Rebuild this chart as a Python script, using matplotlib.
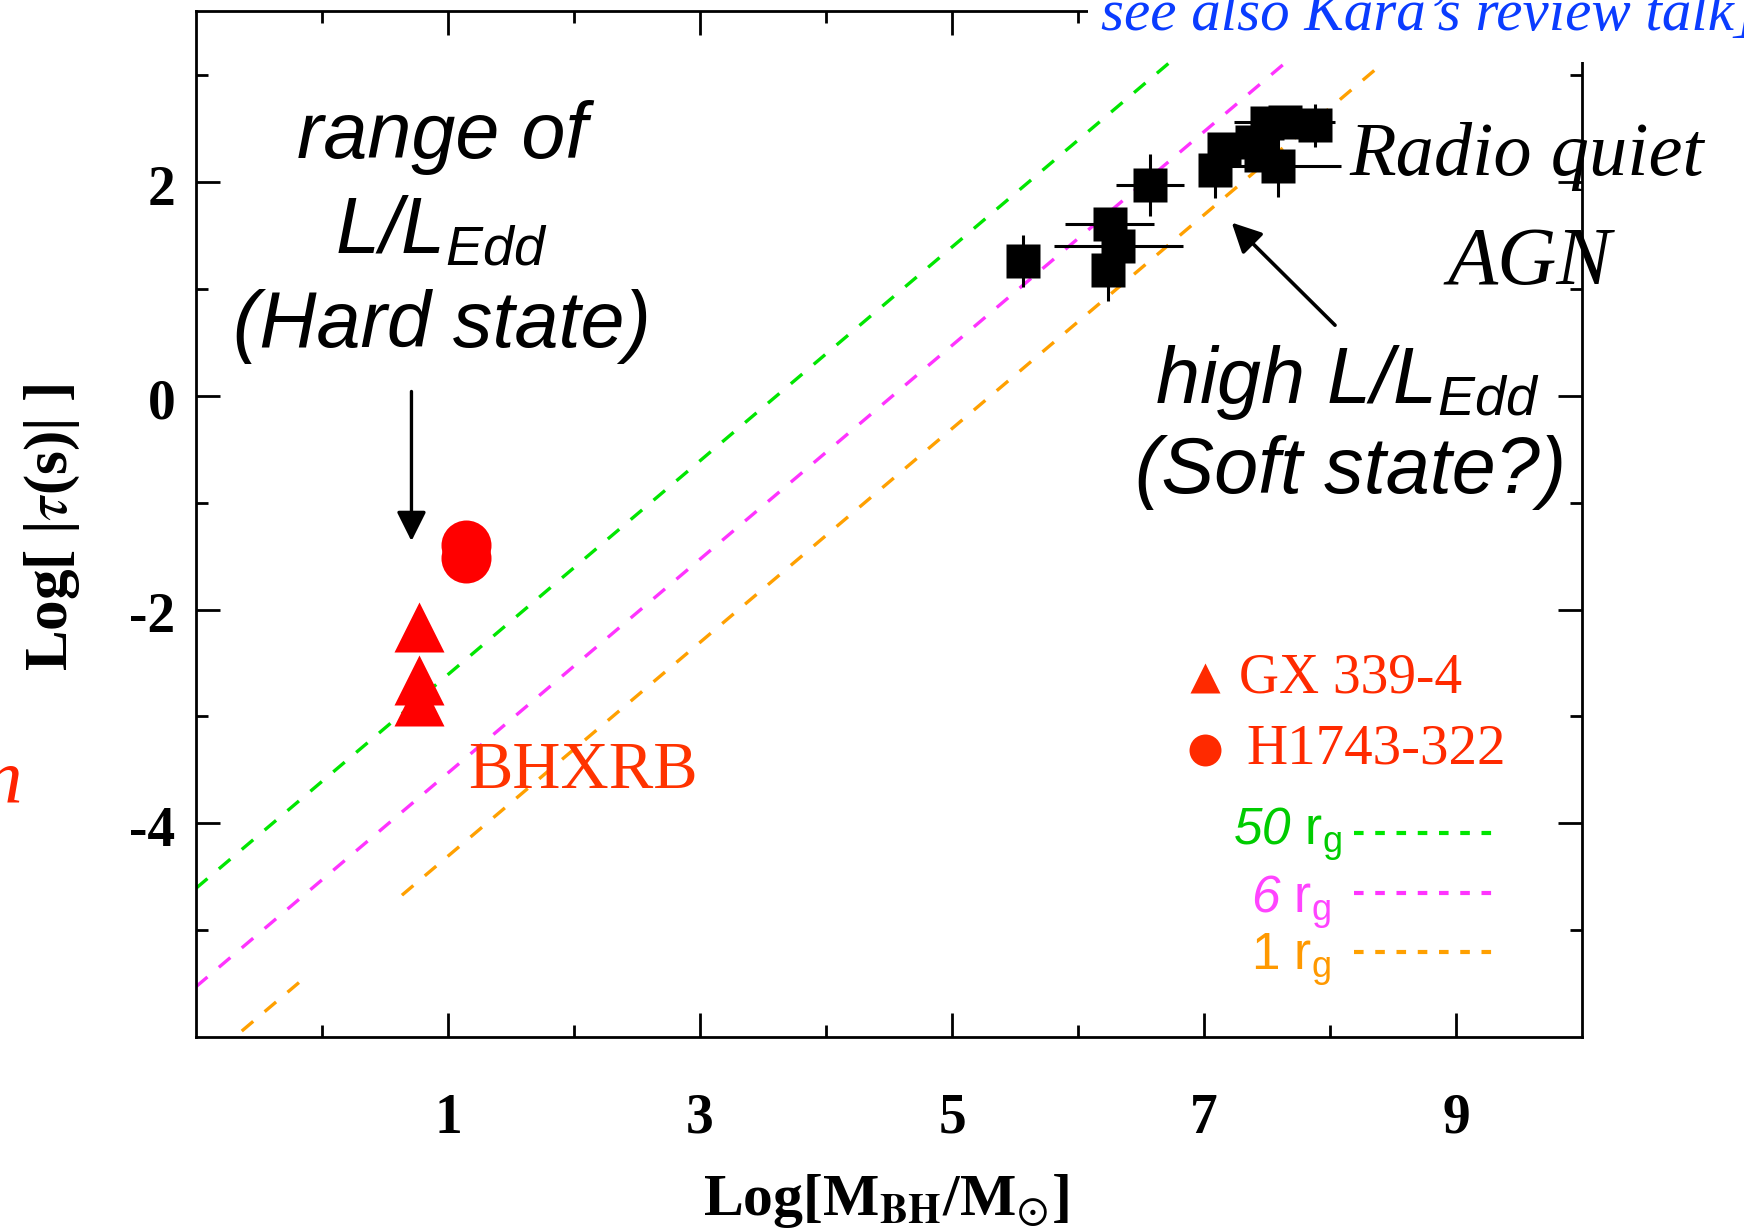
import numpy as np
import matplotlib
matplotlib.use('Agg')
import matplotlib.pyplot as plt
from matplotlib.patches import Rectangle
from matplotlib.transforms import ScaledTranslation

plt.rcParams['font.family'] = 'Liberation Serif'
plt.rcParams['axes.unicode_minus'] = False
plt.rcParams['mathtext.fontset'] = 'custom'
plt.rcParams['mathtext.rm'] = 'Liberation Sans:italic'
plt.rcParams['mathtext.it'] = 'Liberation Sans:italic'
plt.rcParams['mathtext.sf'] = 'Liberation Sans'
plt.rcParams['mathtext.bf'] = 'Liberation Sans:bold'

# BHXRB timescales: GX 339-4 (triangles) and H1743-322 (circles)
GX_MASS = [0.77, 0.77, 0.77]
GX_TAU = [-2.16, -2.66, -2.86]
H1743_MASS = [1.14, 1.14]
H1743_TAU = [-1.40, -1.52]

# radio quiet AGN
AGN_MASS = [5.56, 6.57, 6.25, 6.32, 6.24, 7.09, 7.16, 7.38, 7.50, 7.64, 7.88, 7.59, 7.45]
AGN_TAU = [1.26, 1.97, 1.61, 1.40, 1.18, 2.11, 2.31, 2.37, 2.55, 2.56, 2.53, 2.15, 2.25]
AGN_XERR = [0.05, 0.27, 0.35, 0.51, 0.10, 0.10, 0.10, 0.15, 0.10, 0.40, 0.10, 0.50, 0.10]
AGN_YERR = [0.24, 0.29, 0.10, 0.20, 0.29, 0.26, 0.10, 0.10, 0.10, 0.10, 0.20, 0.29, 0.10]

# light crossing time of N gravitational radii, tau = N GM/c^3
RG_NUM = [50, 6, 1]
RG_LABELS = [r'$\mathrm{50}\ \mathsf{r}_\mathsf{g}$', r'$\mathrm{6}\ \mathsf{r}_\mathsf{g}$',
             r'$\mathsf{1}\ \mathsf{r}_\mathsf{g}$']
RG_COLORS = ['#00e600', '#ff33ff', '#ffa000']
RG_TEXT_COLORS = ['#00cc00', '#ff44ff', '#ff9900']
T_G = 4.925e-6   # GM_sun/c^3 (s)
MASS_RANGE = np.array([-1.0, 10.0])

XTICKS = [1, 3, 5, 7, 9]
XTICK_LABELS = ['1', '3', '5', '7', '9']
XMINOR = [0, 2, 4, 6, 8]
YTICKS = [-4, -2, 0, 2]
YTICK_LABELS = ['-4', '-2', '0', '2']
YMINOR = [-5, -3, -1, 1, 3]

W, H = 1744, 1232
fig = plt.figure(figsize=(W / 100, H / 100), dpi=100)
ax = fig.add_axes([196 / W, 1 - 1037 / H, (1582 - 196) / W, (1037 - 11) / H])
ax.set_xlim(-1, 10)
ax.set_ylim(-6, 3.6)

for n, c in zip(RG_NUM, RG_COLORS):
    ax.plot(MASS_RANGE, MASS_RANGE + np.log10(n * T_G), color=c, lw=2.4,
            ls=(0, (4.5, 4.5)), zorder=1)
# blank patch on the slide hiding part of the 1 rg line
ax.add_patch(Rectangle((-0.15, -6.0), 0.79, 1.32, facecolor='white', edgecolor='none',
                       zorder=1.5))

ax.plot(GX_MASS, GX_TAU, '^', color='red', ms=36, mec='none', zorder=3)
ax.plot(H1743_MASS, H1743_TAU, 'o', color='red', ms=36, mec='none', zorder=3)
ax.errorbar(AGN_MASS, AGN_TAU, xerr=AGN_XERR, yerr=AGN_YERR, fmt='s', color='black',
            ms=24, mec='none', elinewidth=2.2, capsize=0, zorder=3)

# axes styling
for s in ax.spines.values():
    s.set_linewidth(2)
ax.set_xticks(XTICKS)
ax.set_xticklabels(XTICK_LABELS, fontsize=40, fontweight='bold')
ax.set_xticks(XMINOR, minor=True)
ax.set_yticks(YTICKS)
ax.set_yticklabels(YTICK_LABELS, fontsize=40, fontweight='bold')
ax.set_yticks(YMINOR, minor=True)
ax.tick_params(which='both', direction='in', top=True, right=True, width=2)
ax.tick_params(which='major', length=17)
ax.tick_params(which='minor', length=8.5)
ax.tick_params(axis='x', pad=40)
ax.tick_params(axis='y', pad=15)
for lab in ax.get_yticklabels():
    lab.set_transform(lab.get_transform() + ScaledTranslation(0, -0.03, fig.dpi_scale_trans))

fig.text(886 / W, 1 - 1215 / H, r'Log[M$_{\mathbf{BH}}$/M$_{\odot}$]', fontsize=43,
         fontweight='bold', ha='center', va='baseline', math_fontfamily='stix')
fig.text(67 / W, 1 - 527 / H, r'Log[ |$\tau$(s)| ]', fontsize=44, fontweight='bold',
         rotation=90, rotation_mode='anchor', ha='center', va='baseline',
         math_fontfamily='stix')

# annotations
sans = dict(family='Liberation Sans', style='italic', fontsize=57, ha='center', va='baseline')
ax.text(0.95, 2.22, 'range of', **sans)
ax.text(0.95, 1.34, r'L/L$_{Edd}$', **sans)
ax.text(0.95, 0.46, '(Hard state)', **sans)
ax.text(8.14, -0.07, r'high L/L$_{Edd}$', **sans)
ax.text(8.16, -0.91, '(Soft state?)', **sans)
ax.annotate('', xy=(0.71, -1.36), xytext=(0.71, 0.04),
            arrowprops=dict(arrowstyle='-|>', lw=2.4, color='black', mutation_scale=45,
                            shrinkA=0, shrinkB=0))
ax.annotate('', xy=(7.22, 1.62), xytext=(8.04, 0.66),
            arrowprops=dict(arrowstyle='-|>', lw=2.6, color='black', mutation_scale=45,
                            shrinkA=0, shrinkB=0))

ax.text(9.56, 2.07, 'Radio quiet', fontsize=55, style='italic', ha='center', va='baseline')
ax.text(9.58, 1.05, 'AGN', fontsize=59, style='italic', ha='center', va='baseline')
ax.text(1.16, -3.67, 'BHXRB', fontsize=48, color='#ff3300', va='baseline', zorder=4)

# key
ax.plot([7.01], [-2.64], '^', color='#ff2a00', ms=22, mec='none')
ax.text(7.28, -2.78, 'GX 339-4', fontsize=40, color='#ff2a00', va='baseline')
ax.plot([7.01], [-3.31], 'o', color='#ff2a00', ms=23, mec='none')
ax.text(7.34, -3.44, 'H1743-322', fontsize=41, color='#ff2a00', va='baseline')
key_y = [-4.09, -4.65, -5.20]
key_text_x = [7.23, 7.37, 7.37]
key_text_y = [-4.20, -4.84, -5.37]
for i in range(3):
    ax.plot([8.19, 9.30], [key_y[i], key_y[i]], color=RG_COLORS[i], lw=3,
            ls=(0, (2.3, 2.8)))
    ax.text(key_text_x[i], key_text_y[i], RG_LABELS[i], fontsize=37,
            color=RG_TEXT_COLORS[i], va='baseline')

# cover over the top right corner of the slide
fig.patches.append(Rectangle((1088 / W, 1 - 62 / H), 1, 1, transform=fig.transFigure,
                             facecolor='white', edgecolor='none', zorder=5))
fig.text(1101 / W, 1 - 30 / H, 'see also Kara\u2019s review talk]', fontsize=42.5,
         style='italic', color='#0a3cff', va='baseline', zorder=6)
fig.text(-18 / W, 1 - 802 / H, 'n', fontsize=57, style='italic', color='#ff2200',
         va='baseline')

fig.savefig('out.png', dpi=100)
